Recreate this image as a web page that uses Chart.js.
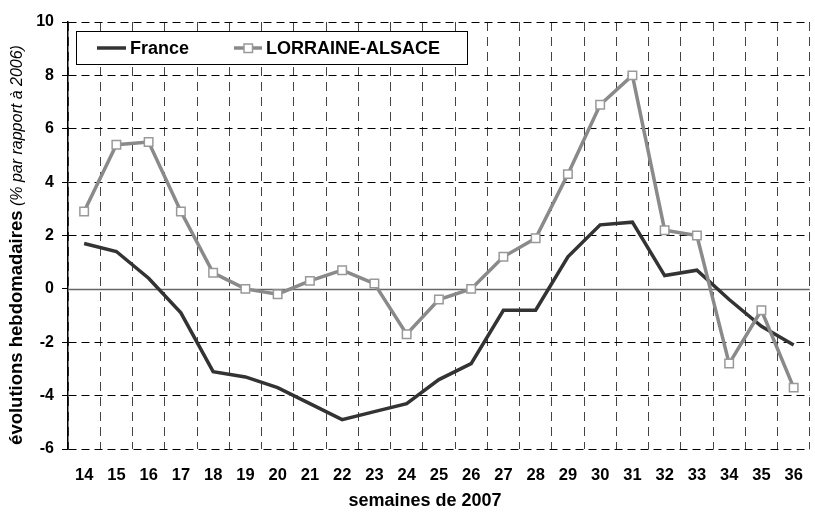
<!DOCTYPE html>
<html lang="fr">
<head>
    <meta charset="UTF-8">
    <title>Evolutions hebdomadaires 2007</title>
    <script src="https://cdn.jsdelivr.net/npm/chart.js"></script>
    <style>
        body { margin: 0; background: #fff; overflow: hidden; }
        #myChart { display: block; }
    </style>
</head>
<body>
    <!-- the plot runs a few pixels past the right edge, as in the original -->
    <canvas id="myChart" width="820" height="512"></canvas>
    <script>
        // semaines 14 a 36
        var weeks = ['14','15','16','17','18','19','20','21','22','23','24','25','26','27','28','29','30','31','32','33','34','35','36'];
        var france = [1.7, 1.4, 0.4, -0.9, -3.1, -3.3, -3.7, -4.3, -4.9, -4.6, -4.3, -3.4, -2.8, -0.8, -0.8, 1.2, 2.4, 2.5, 0.5, 0.7, -0.4, -1.4, -2.1];
        var lorraineAlsace = [2.9, 5.4, 5.5, 2.9, 0.6, 0.0, -0.2, 0.3, 0.7, 0.2, -1.7, -0.4, 0.0, 1.2, 1.9, 4.3, 6.9, 8.0, 2.2, 2.0, -2.8, -0.8, -3.7];

        var yTitleBold = 'évolutions hebdomadaires';
        var yTitleItalic = ' (% par rapport à 2006)';
        var xTitle = 'semaines de 2007';

        var FONT = "Arial, 'Liberation Sans', sans-serif";

        // zero line, legend box and axis titles
        var extras = {
            id: 'extras',
            beforeDatasetsDraw: function(chart) {
                var ctx = chart.ctx, a = chart.chartArea;
                var y0 = Math.round(chart.scales.y.getPixelForValue(0)) + 0.5;
                ctx.save();
                ctx.strokeStyle = '#666';
                ctx.lineWidth = 1.5;
                ctx.beginPath();
                ctx.moveTo(a.left, y0);
                ctx.lineTo(a.right, y0);
                ctx.stroke();
                ctx.restore();
            },
            afterDraw: function(chart) {
                var ctx = chart.ctx;
                var ds = chart.data.datasets;
                ctx.save();

                // legend
                ctx.fillStyle = '#fff';
                ctx.strokeStyle = '#000';
                ctx.lineWidth = 1;
                ctx.fillRect(76.5, 31.5, 391, 33);
                ctx.strokeRect(76.5, 31.5, 391, 33);

                ctx.font = 'bold 18px ' + FONT;
                ctx.textBaseline = 'middle';
                ctx.textAlign = 'left';

                ctx.strokeStyle = ds[0].borderColor;
                ctx.lineWidth = 3.5;
                ctx.beginPath();
                ctx.moveTo(97, 48);
                ctx.lineTo(126, 48);
                ctx.stroke();
                ctx.fillStyle = '#000';
                ctx.fillText(ds[0].label, 130, 49);

                ctx.strokeStyle = ds[1].borderColor;
                ctx.beginPath();
                ctx.moveTo(234, 48);
                ctx.lineTo(262, 48);
                ctx.stroke();
                ctx.fillStyle = '#fff';
                ctx.strokeStyle = ds[1].pointBorderColor;
                ctx.lineWidth = 1.5;
                ctx.fillRect(244, 44, 8.5, 8.5);
                ctx.strokeRect(244, 44, 8.5, 8.5);
                ctx.fillStyle = '#000';
                ctx.fillText(ds[1].label, 266, 49);

                // x title
                ctx.textAlign = 'center';
                ctx.fillText(xTitle, 425, 501);

                // y title, bold part + italic part
                ctx.translate(17, 245);
                ctx.rotate(-Math.PI / 2);
                ctx.font = 'bold 18.5px ' + FONT;
                var w1 = ctx.measureText(yTitleBold).width;
                ctx.font = 'italic 16px ' + FONT;
                var w2 = ctx.measureText(yTitleItalic).width;
                var start = -(w1 + w2) / 2;
                ctx.textAlign = 'left';
                ctx.font = 'bold 18.5px ' + FONT;
                ctx.fillText(yTitleBold, start, 0);
                ctx.font = 'italic 16px ' + FONT;
                ctx.fillText(yTitleItalic, start + w1, 1);
                ctx.restore();
            }
        };

        var ctx = document.getElementById('myChart').getContext('2d');
        var myChart = new Chart(ctx, {
            type: 'line',
            data: {
                labels: weeks,
                datasets: [{
                    label: 'France',
                    data: france,
                    borderColor: '#333333',
                    borderWidth: 3.5,
                    pointRadius: 0,
                    tension: 0,
                    order: 1
                }, {
                    label: 'LORRAINE-ALSACE',
                    data: lorraineAlsace,
                    borderColor: '#8a8a8a',
                    borderWidth: 3.5,
                    pointStyle: 'rect',
                    pointRadius: 6,
                    pointBackgroundColor: '#ffffff',
                    pointBorderColor: '#999999',
                    pointBorderWidth: 1.5,
                    tension: 0,
                    order: 0
                }]
            },
            options: {
                responsive: false,
                animation: false,
                layout: { padding: { top: 22, left: 0, right: 0, bottom: 0 } },
                plugins: {
                    legend: { display: false },
                    tooltip: { enabled: false }
                },
                scales: {
                    x: {
                        offset: true,
                        afterFit: function(s) { s.height = 63; },
                        grid: {
                            offset: true,
                            color: '#444',
                            lineWidth: 1,
                            drawTicks: false
                        },
                        border: { display: false, dash: [9, 6] },
                        ticks: {
                            color: '#000',
                            padding: 17,
                            maxRotation: 0,
                            autoSkip: false,
                            font: { family: FONT, size: 16.5, weight: 'bold' }
                        }
                    },
                    y: {
                        min: -6,
                        max: 10,
                        afterFit: function(s) { s.width = 68; },
                        grid: {
                            color: function(c) {
                                return c.tick && c.tick.value === 0 ? 'rgba(0,0,0,0)' : '#000';
                            },
                            tickColor: '#000',
                            tickLength: 6,
                            lineWidth: 1
                        },
                        border: { display: true, color: '#000', width: 1.5, dash: [8, 5] },
                        ticks: {
                            stepSize: 2,
                            color: '#000',
                            padding: 8,
                            font: { family: FONT, size: 16, weight: 'bold' }
                        }
                    }
                }
            },
            plugins: [extras]
        });
    </script>
</body>
</html>
